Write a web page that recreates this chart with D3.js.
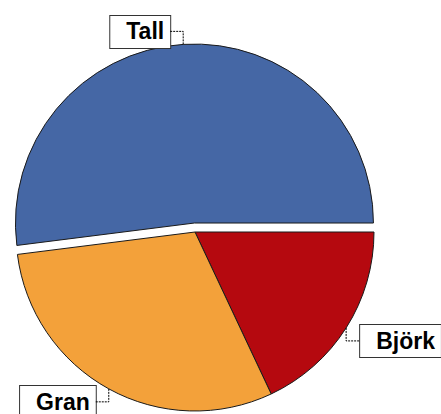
<!DOCTYPE html>
<html>
<head>
<meta charset="utf-8">
<script src="https://cdn.jsdelivr.net/npm/d3@7"></script>
<style>
  html, body { margin: 0; padding: 0; background: #fff; }
  svg { display: block; }
</style>
</head>
<body>
<svg id="chart" width="441" height="414"></svg>
<script>
// data
const categories = ["Björk", "Gran", "Tall"];
const values = [18, 30, 52];
const explodedCats = ["Tall"];

const colors = {"Björk": "#b5090f", "Gran": "#f3a13a", "Tall": "#4567a5"};

var svg = d3.select("#chart"),
    cx = 195,
    cy = 232,
    radius = 179,
    explode = 9;

var data = categories.map(function(c, i) { return {name: c, value: values[i]}; });

var pie = d3.pie()
    .sort(null)
    .value(function(d) { return d.value; })
    .startAngle(Math.PI / 2)
    .endAngle(Math.PI / 2 + 2 * Math.PI);

var arc = d3.arc().innerRadius(0).outerRadius(radius);

var arcs = pie(data);

function offsetOf(d) {
    if (explodedCats.indexOf(d.data.name) < 0) return [0, 0];
    var a = (d.startAngle + d.endAngle) / 2;
    return [Math.sin(a) * explode, -Math.cos(a) * explode];
}

var g = svg.append("g").attr("transform", "translate(" + cx + "," + cy + ")");

g.selectAll(".slice")
    .data(arcs)
    .enter().append("path")
    .attr("class", "slice")
    .attr("transform", function(d) { var o = offsetOf(d); return "translate(" + o[0] + "," + o[1] + ")"; })
    .attr("d", arc)
    .attr("fill", function(d) { return colors[d.data.name]; })
    .attr("stroke", "#1a1a1a")
    .attr("stroke-width", 1);

// labels with leader lines
var boxH = 33, gap = 13, padL = 17, padR = 6;

arcs.forEach(function(d) {
    var a = (d.startAngle + d.endAngle) / 2;
    var o = offsetOf(d);
    var ax = Math.sin(a) * radius + o[0],
        ay = -Math.cos(a) * radius + o[1];
    var top = Math.cos(a) > 0;
    var right = Math.sin(a) > 0 && !top;
    var ly = top ? ay - gap : ay + gap;

    var lg = g.append("g");
    var txt = lg.append("text")
        .attr("font-family", "Liberation Sans, Arial, sans-serif")
        .attr("font-weight", "bold")
        .attr("font-size", "23px")
        .attr("fill", "#000")
        .text(d.data.name);
    var tw = txt.node().getComputedTextLength();
    var bw = tw + padL + padR;
    var bx = right ? ax + gap : ax - gap - bw;

    lg.insert("rect", "text")
        .attr("x", bx + 0.5)
        .attr("y", Math.round(ly - boxH / 2) + 0.5)
        .attr("width", bw)
        .attr("height", boxH)
        .attr("fill", "#fff")
        .attr("stroke", "#333")
        .attr("stroke-width", 1);
    txt.attr("x", bx + padL).attr("y", ly + 8);

    lg.append("path")
        .attr("d", "M" + ax + "," + ay + "V" + ly + "H" + (right ? bx : bx + bw))
        .attr("fill", "none")
        .attr("stroke", "#000")
        .attr("stroke-width", 1)
        .attr("stroke-dasharray", "2,1");
});
</script>
</body>
</html>
